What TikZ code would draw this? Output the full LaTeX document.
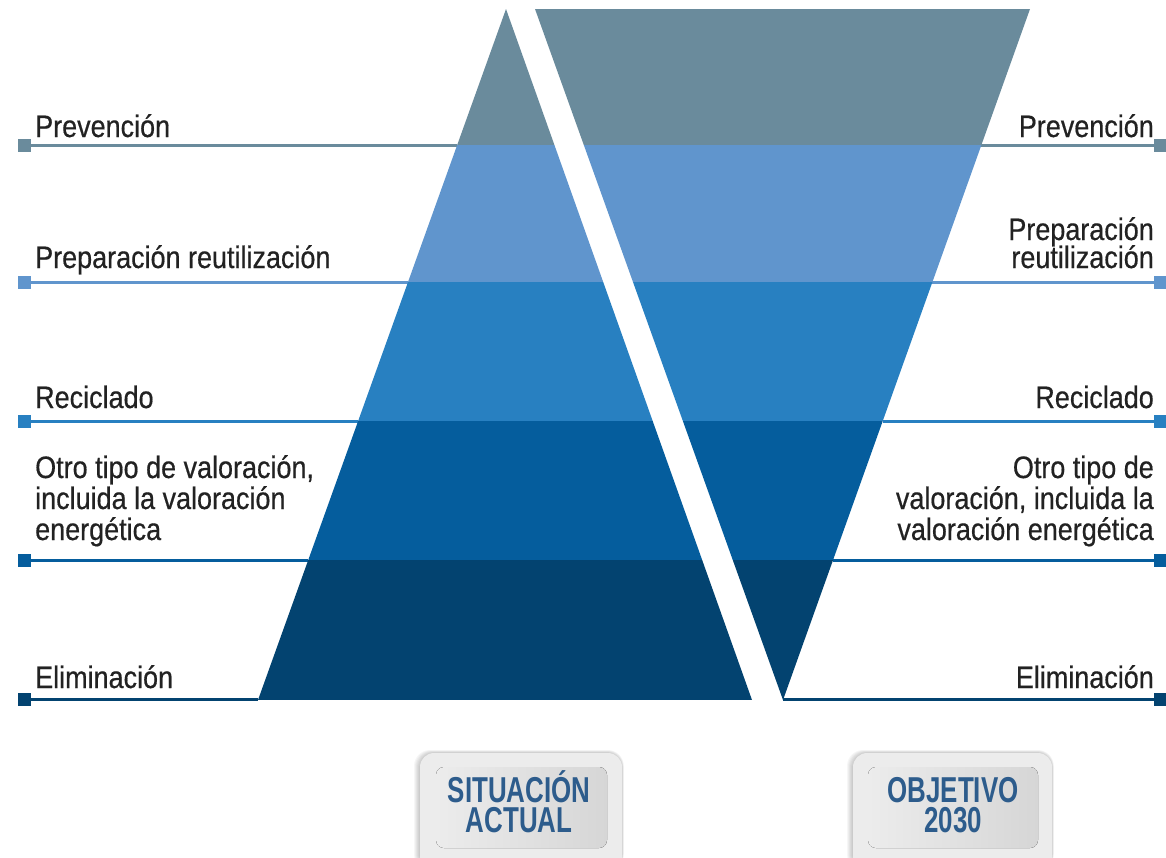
\documentclass[tikz,border=0pt]{standalone}
\usepackage{fontspec}
\setmainfont{Liberation Sans}[FakeStretch=0.87,FakeBold=0.5]
\newfontfamily\btnfont{Liberation Sans}[FakeStretch=0.72]
\definecolor{c1}{RGB}{106,139,156}
\definecolor{c2}{RGB}{96,149,205}
\definecolor{c3}{RGB}{40,128,193}
\definecolor{c4}{RGB}{5,93,157}
\definecolor{c5}{RGB}{3,67,112}
\definecolor{txt}{RGB}{34,34,34}
\definecolor{btntxt}{RGB}{45,92,140}
\definecolor{btnbg}{RGB}{236,236,236}
\definecolor{btnin}{RGB}{214,214,214}
\begin{document}
\begin{tikzpicture}[x=1pt,y=-1pt,
  lab/.style={font=\fontsize{31}{31}\selectfont, text=txt, inner sep=0pt},
  sq/.style={rectangle, minimum size=13pt, inner sep=0pt},
  ln/.style={line width=3pt},
  btnlab/.style={font=\btnfont\bfseries\fontsize{36}{30}\selectfont, text=btntxt,
    inner sep=0pt, align=center},
  btnbox/.style={fill=btnbg, rounded corners=14pt},
  btnshade/.style={rounded corners=8pt, left color=btnbg, right color=btnin}]
\clip (0,0) rectangle (1166,857);
\fill[white] (0,0) rectangle (1166,857);

% ---------- edge coordinates ----------
\coordinate (le1) at (457.2,145);
\coordinate (le2) at (408.0,282);
\coordinate (le3) at (358.1,421);
\coordinate (le4) at (308.2,560);
\coordinate (le5) at (258.4,699);
\coordinate (re1) at (981.4,145);
\coordinate (re2) at (932.4,282);
\coordinate (re3) at (882.7,421);
\coordinate (re4) at (833.0,560);
\coordinate (re5) at (783.4,699);

% ---------- squares ----------
\node[sq, fill=c1] (ls1) at (24,145) {};
\node[sq, fill=c2] (ls2) at (24,282) {};
\node[sq, fill=c3] (ls3) at (24,421) {};
\node[sq, fill=c4] (ls4) at (24,560) {};
\node[sq, fill=c5] (ls5) at (24,699) {};
\node[sq, fill=c1] (rs1) at (1160,145) {};
\node[sq, fill=c2] (rs2) at (1160,282) {};
\node[sq, fill=c3] (rs3) at (1160,421) {};
\node[sq, fill=c4] (rs4) at (1160,560) {};
\node[sq, fill=c5] (rs5) at (1160,699) {};

% ---------- connector lines ----------
\draw[ln, c1] (ls1.center) -- (le1);
\draw[ln, c2] (ls2.center) -- (le2);
\draw[ln, c3] (ls3.center) -- (le3);
\draw[ln, c4] (ls4.center) -- (le4);
\draw[ln, c5] (ls5.center) -- (le5);
\draw[ln, c1] (re1) -- (rs1.center);
\draw[ln, c2] (re2) -- (rs2.center);
\draw[ln, c3] (re3) -- (rs3.center);
\draw[ln, c4] (re4) -- (rs4.center);
\draw[ln, c5] (re5) -- (rs5.center);

% ---------- left triangle ----------
\begin{scope}
\clip (506,9) -- (752,700) -- (258,700) -- cycle;
\fill[c1] (250,0) rectangle (760,145);
\fill[c2] (250,145) rectangle (760,282);
\fill[c3] (250,282) rectangle (760,421);
\fill[c4] (250,421) rectangle (760,560);
\fill[c5] (250,560) rectangle (760,700);
\end{scope}

% ---------- right inverted triangle ----------
\begin{scope}
\clip (535,9) -- (1030,9) -- (783,700) -- cycle;
\fill[c1] (530,0) rectangle (1040,145);
\fill[c2] (530,145) rectangle (1040,282);
\fill[c3] (530,282) rectangle (1040,421);
\fill[c4] (530,421) rectangle (1040,560);
\fill[c5] (530,560) rectangle (1040,700);
\end{scope}

% ---------- left labels ----------
\node[lab, anchor=base west] (l1) at (35,137) {Prevención};
\node[lab, anchor=base west] (l2) at (35,268) {Preparación reutilización};
\node[lab, anchor=base west] (l3) at (35,408) {Reciclado};
\node[lab, anchor=base west] (l4a) at (35,478) {Otro tipo de valoración,};
\node[lab, anchor=base west] (l4b) at (35,509) {incluida la valoración};
\node[lab, anchor=base west] (l4c) at (35,540) {energética};
\node[lab, anchor=base west] (l5) at (35,688) {Eliminación};

% ---------- right labels ----------
\node[lab, anchor=base east] (r1) at (1154,137) {Prevención};
\node[lab, anchor=base east] (r2a) at (1154,240) {Preparación};
\node[lab, anchor=base east] (r2b) at (1154,268) {reutilización};
\node[lab, anchor=base east] (r3) at (1154,408) {Reciclado};
\node[lab, anchor=base east] (r4a) at (1154,478) {Otro tipo de};
\node[lab, anchor=base east] (r4b) at (1154,509) {valoración, incluida la};
\node[lab, anchor=base east] (r4c) at (1154,540) {valoración energética};
\node[lab, anchor=base east] (r5) at (1154,688) {Eliminación};

% ---------- buttons ----------
\foreach \k in {1,...,6}{
  \fill[black, opacity=0.035, rounded corners=16pt]
    (420-\k,753-0.5*\k) rectangle (622+0.3*\k,870);
  \fill[black, opacity=0.035, rounded corners=16pt]
    (853-\k,753-0.5*\k) rectangle (1052+0.3*\k,870);
}
\fill[btnbox] (420,753) rectangle (622,870);
\fill[btnshade] (436,767) rectangle (607,848);
\fill[btnbox] (853,753) rectangle (1052,870);
\fill[btnshade] (868,767) rectangle (1038,848);

\node[btnlab, anchor=base] (b1) at (519,832) {SITUACIÓN\\ACTUAL};
\node[btnlab, anchor=base] (b2) at (953,832) {OBJETIVO\\2030};
\end{tikzpicture}
\end{document}
